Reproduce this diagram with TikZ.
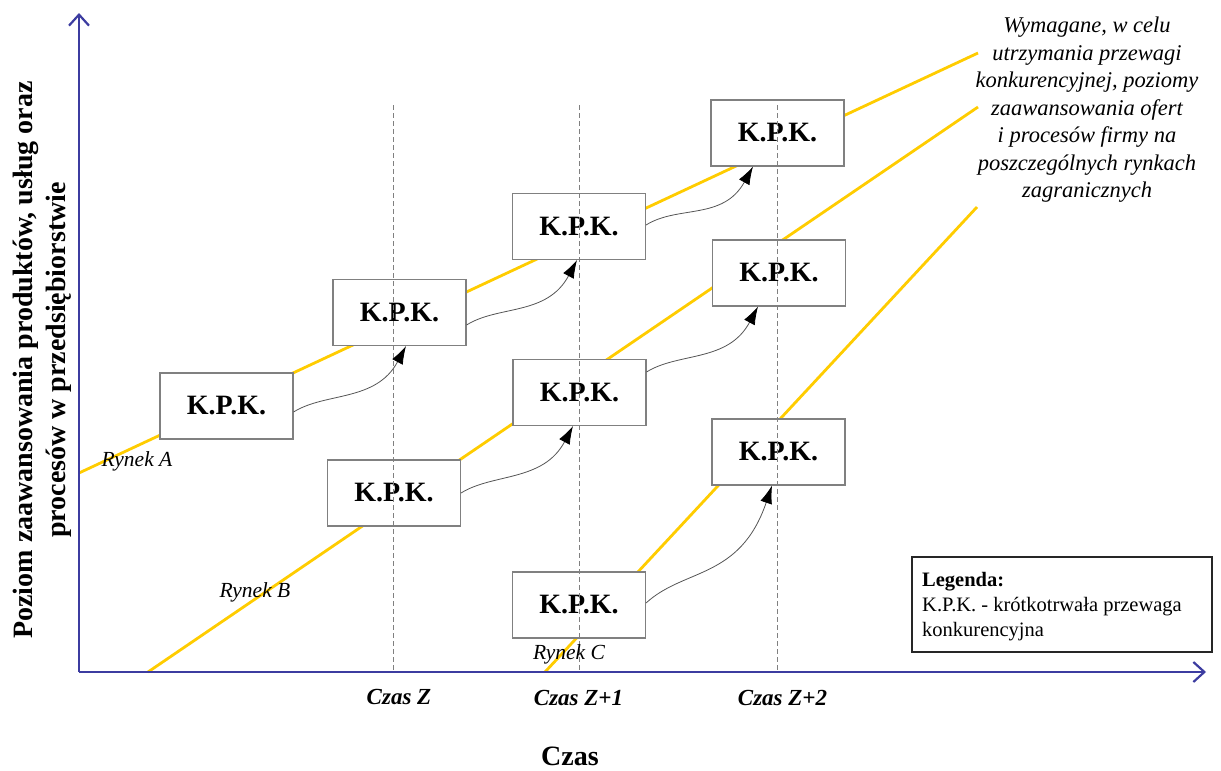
\documentclass[tikz,border=0pt]{standalone}
\usepackage{fontspec}
\setmainfont{Liberation Serif}
\usetikzlibrary{arrows.meta}
\definecolor{axisblue}{HTML}{3C3CA0}
\definecolor{mktyellow}{HTML}{FFCC00}
\definecolor{boxgrey}{HTML}{808080}
\definecolor{flowgrey}{HTML}{555555}

\begin{document}
\begin{tikzpicture}[x=1pt,y=-1pt,
  axis/.style={draw=axisblue, line width=2.6pt, -{Straight Barb[length=11pt,width=20pt,line width=2.2pt]}},
  market/.style={draw=mktyellow, line width=2.8pt},
  timeline/.style={draw=boxgrey, line width=0.9pt, dash pattern=on 5pt off 3pt},
  kpk/.style={draw=boxgrey, line width=1.1pt, fill=white, minimum width=133pt,
    minimum height=66pt, inner sep=0pt, font=\bfseries\fontsize{28}{30}\selectfont},
  flow/.style={draw=flowgrey, line width=0.8pt, -{Latex[length=18pt,width=12pt,color=black,fill=black]}},
  mktlabel/.style={inner sep=0pt, font=\itshape\fontsize{21.5}{24}\selectfont},
  timelabel/.style={inner sep=0pt, font=\bfseries\itshape\fontsize{23}{26}\selectfont},
]
\useasboundingbox (0,0) rectangle (1221,771);

% market trend lines
\coordinate (Astart) at (79,473);   \coordinate (Aend) at (978,53);
\coordinate (Bstart) at (148,672);  \coordinate (Bend) at (978,107);
\coordinate (Cstart) at (545,672);  \coordinate (Cend) at (977,207);
\draw[market] (Astart) -- (Aend);
\draw[market] (Bstart) -- (Bend);
\draw[market] (Cstart) -- (Cend);

% axes
\coordinate (O) at (79,672);
\coordinate (Ytop) at (79,13);
\coordinate (Xend) at (1206,672);
\draw[axis] (O) -- (Ytop);
\draw[axis] (O) -- (Xend);

% short-term advantage boxes
\node[kpk] (A1) at (226.5,406) {K.P.K.};
\node[kpk] (A2) at (399.5,312.5) {K.P.K.};
\node[kpk] (B1) at (394,493) {K.P.K.};
\node[kpk] (A3) at (579,226.5) {K.P.K.};
\node[kpk] (B2) at (579.5,392.5) {K.P.K.};
\node[kpk] (C1) at (579,605) {K.P.K.};
\node[kpk] (A4) at (777.5,133) {K.P.K.};
\node[kpk] (B3) at (779,273) {K.P.K.};
\node[kpk] (C2) at (778.5,452) {K.P.K.};

% time markers
\coordinate (TZtop) at (393,105);    \coordinate (TZbot) at (393,672);
\coordinate (TZ1top) at (579,105);   \coordinate (TZ1bot) at (579,672);
\coordinate (TZ2top) at (777,105);   \coordinate (TZ2bot) at (777,672);
\draw[timeline] (TZtop) -- (TZbot);
\draw[timeline] (TZ1top) -- (TZ1bot);
\draw[timeline] (TZ2top) -- (TZ2bot);

% transitions between successive advantages
\draw[flow] ([yshift=-6pt]A1.east) .. controls +(32,-20) and +(-30,56) .. ([xshift=6.5pt]A2.south);
\draw[flow] ([yshift=-12.5pt]A2.east) .. controls +(32,-20) and +(-30,56) .. ([xshift=-2pt]A3.south);
\draw[flow] ([yshift=1.5pt]A3.east) .. controls +(32,-20) and +(-30,54) .. ([xshift=-24.5pt]A4.south);
\draw[flow] (B1.east) .. controls +(32,-20) and +(-30,56) .. ([xshift=-6.5pt]B2.south);
\draw[flow] ([yshift=20.5pt]B2.east) .. controls +(32,-20) and +(-30,56) .. ([xshift=-21pt]B3.south);
\draw[flow] ([yshift=2pt]C1.east) .. controls +(38,-35) and +(-32,94) .. ([xshift=-6.5pt]C2.south);

% market names
\node[mktlabel] (RA) at (137,461) {Rynek A};
\node[mktlabel] (RB) at (255,592) {Rynek B};
\node[mktlabel] (RC) at (569,654) {Rynek C};

% time axis labels
\node[timelabel] (LZ) at (399,697) {Czas Z};
\node[timelabel] (LZ1) at (578.5,698) {Czas Z+1};
\node[timelabel] (LZ2) at (782.5,698) {Czas Z+2};
\node[inner sep=0pt, font=\bfseries\fontsize{28}{30}\selectfont] (XT) at (570,756) {Czas};

% vertical axis title
\node[inner sep=0pt, rotate=90, align=center, font=\bfseries\fontsize{28}{33}\selectfont] (YT) at (42,360)
  {Poziom zaawansowania produktów, usług oraz\\procesów w przedsiębiorstwie};

% description of the trend lines
\node[inner sep=0pt, align=center, font=\itshape\fontsize{22.5}{27.5}\selectfont] (DESC) at (1087,110)
  {Wymagane, w celu\\utrzymania przewagi\\konkurencyjnej, poziomy\\zaawansowania ofert\\i procesów firmy na\\poszczególnych rynkach\\zagranicznych};

% legend
\node[draw=black!85, line width=1.3pt, fill=white, minimum width=300pt, minimum height=95pt] (LEG) at (1062,604.5) {};
\node[anchor=west, inner sep=0pt, align=left, font=\fontsize{20.5}{25}\selectfont] (LEGTXT) at (922,607)
  {\textbf{Legenda:}\\K.P.K. - krótkotrwała przewaga\\konkurencyjna};
\end{tikzpicture}
\end{document}
